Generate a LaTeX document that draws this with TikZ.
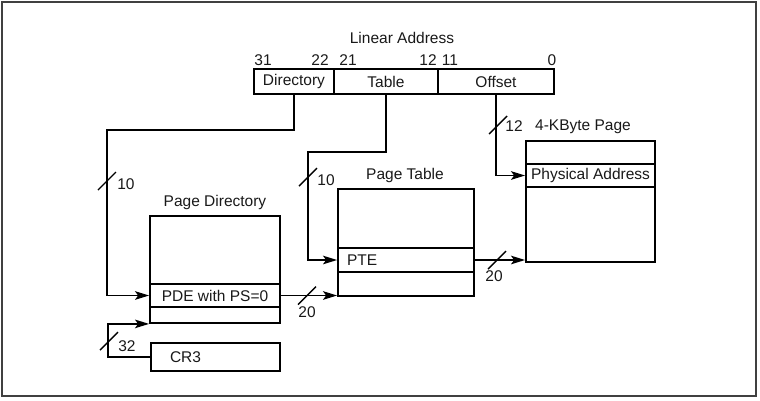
\documentclass[tikz,border=0pt]{standalone}
\usepackage{fontspec}
\setmainfont{Liberation Sans}
\usetikzlibrary{arrows.meta}

\begin{document}
\begin{tikzpicture}[x=1pt, y=-1pt, line width=1.8pt, >={Stealth[length=14pt,width=8.5pt,inset=3pt]},
    cell/.style={draw, inner sep=0pt, text=black!90, font=\fontsize{15.5}{18}\selectfont},
    lbl/.style={inner sep=0pt, text=black!90, font=\fontsize{15.5}{18}\selectfont},
    bus/.style={line width=1.4pt}]
\useasboundingbox (0,0) rectangle (760,400);
\draw[black!75, line width=2pt] (1.5,2) rectangle (756,396);

% linear address
\node[lbl] (title) at (402,38) {Linear Address};
\node[cell, minimum width=80pt, minimum height=25pt] (dir) at (294,81.5) {Directory};
\node[cell, minimum width=104pt, minimum height=25pt] (tbl) at (386,81.5) {Table};
\node[cell, minimum width=116pt, minimum height=25pt] (off) at (496,81.5) {Offset};
\node[lbl] (b31) at (263,60) {31};
\node[lbl] (b22) at (320,60) {22};
\node[lbl] (b21) at (348,60) {21};
\node[lbl] (b12) at (428,60) {12};
\node[lbl] (b11) at (450,60) {11};
\node[lbl] (b0) at (552,60) {0};

% page directory
\node[lbl] (pdname) at (215,202) {Page Directory};
\node[cell, minimum width=130pt, minimum height=68pt] (pdtop) at (215,250) {};
\node[cell, minimum width=130pt, minimum height=23pt] (pde) at (215,295.5) {PDE with PS=0};
\node[cell, minimum width=130pt, minimum height=16pt] (pdbot) at (215,315) {};
\node[cell, minimum width=129pt, minimum height=28pt, text width=91pt] (cr3) at (215.5,357) {CR3};

% page table
\node[lbl] (ptname) at (405,175) {Page Table};
\node[cell, minimum width=136pt, minimum height=59pt] (pttop) at (406,218.5) {};
\node[cell, minimum width=136pt, minimum height=24pt, text width=118pt] (pte) at (406,260) {PTE};
\node[cell, minimum width=136pt, minimum height=24pt] (ptbot) at (406,284) {};

% 4-KByte page
\node[lbl] (pgname) at (583,127) {4-KByte Page};
\node[cell, minimum width=129pt, minimum height=23pt] (pgtop) at (590.5,152.5) {};
\node[cell, minimum width=129pt, minimum height=23pt] (phys) at (590.5,175.5) {Physical Address};
\node[cell, minimum width=129pt, minimum height=75pt] (pgbot) at (590.5,224.5) {};

% connectors
\coordinate (dirturn) at (107,130);
\coordinate (tblturn) at (308,152);
\draw[->] (dir.south) |- (dirturn) |- (pde.west);
\draw[->] (tbl.south) |- (tblturn) |- (pte.west);
\draw[->] (off.south) |- (phys.west);
\draw[->] (cr3.west) -| ([xshift=-41pt]pdbot.south west) -- (pdbot.south west);
\draw[->] (pde.east) -- (pde.east -| ptbot.south west);
\draw[->] (pte.east) -- (pte.east -| pgbot.west);

% bus widths
\coordinate (s1) at (107,181);
\coordinate (s2) at (308,177);
\coordinate (s3) at (498,125);
\coordinate (s4) at (307,295.5);
\coordinate (s5) at (497,260);
\coordinate (s6) at (109,341);
\draw[bus] (s1) +(-9,9) -- +(9,-9);
\draw[bus] (s2) +(-9,9) -- +(9,-9);
\draw[bus] (s3) +(-9,9) -- +(9,-9);
\draw[bus] (s4) +(-9,9) -- +(9,-9);
\draw[bus] (s5) +(-9,9) -- +(9,-9);
\draw[bus] (s6) +(-9,9) -- +(9,-9);
\node[lbl] (w1) at (126,184) {10};
\node[lbl] (w2) at (326,180) {10};
\node[lbl] (w3) at (514,126) {12};
\node[lbl] (w4) at (307,312) {20};
\node[lbl] (w5) at (494,276) {20};
\node[lbl] (w6) at (127,346) {32};
\end{tikzpicture}
\end{document}
